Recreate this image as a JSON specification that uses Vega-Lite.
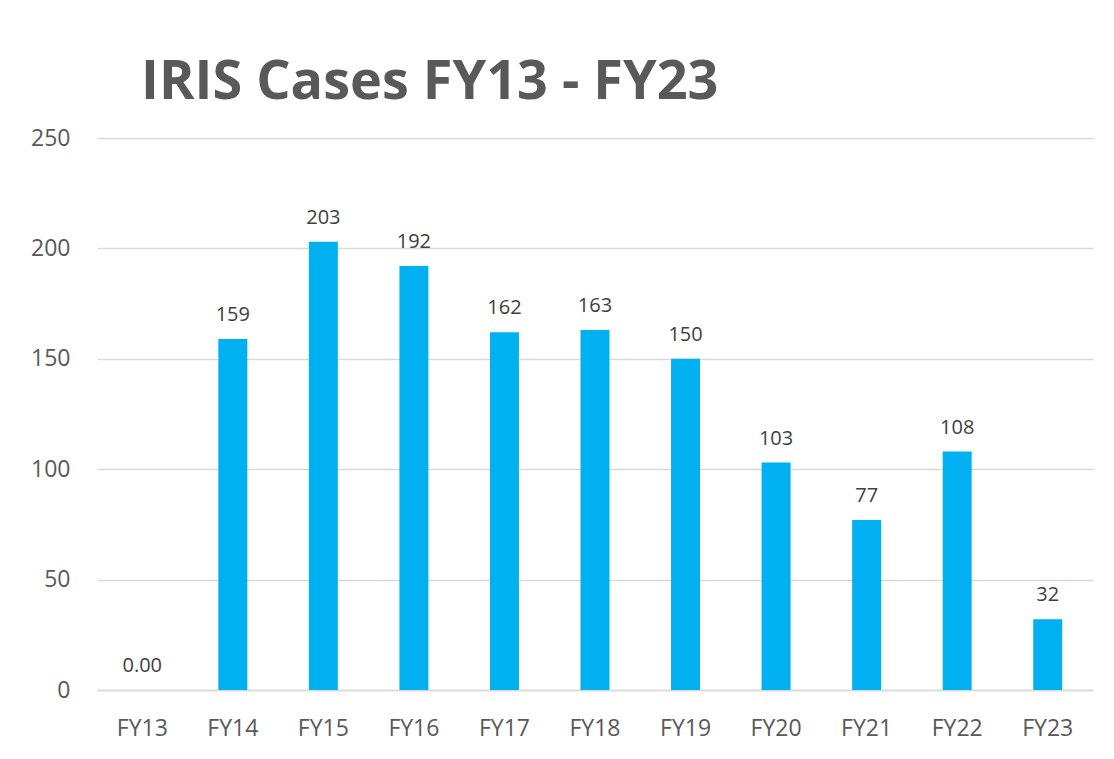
{
  "$schema": "https://vega.github.io/schema/vega-lite/v6.json",
  "width": 996,
  "height": 552,
  "autosize": {"type": "none"},
  "padding": {"left": 97, "top": 138, "right": 21, "bottom": 69},
  "background": "white",
  "title": {
    "text": "IRIS Cases FY13 - FY23",
    "anchor": "start",
    "frame": "group",
    "font": "Open Sans",
    "fontSize": 54,
    "fontWeight": "bold",
    "color": "#595959",
    "baseline": "alphabetic",
    "dx": 44,
    "dy": 64,
    "offset": 38
  },
  "data": {
    "values": [
      {"year": "FY13", "cases": 0, "label": "0.00"},
      {"year": "FY14", "cases": 159, "label": "159"},
      {"year": "FY15", "cases": 203, "label": "203"},
      {"year": "FY16", "cases": 192, "label": "192"},
      {"year": "FY17", "cases": 162, "label": "162"},
      {"year": "FY18", "cases": 163, "label": "163"},
      {"year": "FY19", "cases": 150, "label": "150"},
      {"year": "FY20", "cases": 103, "label": "103"},
      {"year": "FY21", "cases": 77, "label": "77"},
      {"year": "FY22", "cases": 108, "label": "108"},
      {"year": "FY23", "cases": 32, "label": "32"}
    ]
  },
  "encoding": {
    "x": {
      "field": "year",
      "type": "nominal",
      "sort": null,
      "scale": {"paddingInner": 0.68, "paddingOuter": 0.34},
      "axis": {
        "title": null,
        "labelAngle": 0,
        "labelFont": "Open Sans",
        "labelFontSize": 23,
        "labelColor": "#595959",
        "labelPadding": 27,
        "ticks": false,
        "tickSize": 0,
        "domainColor": "#d9d9d9",
        "domainWidth": 1.5,
        "grid": false
      }
    },
    "y": {
      "field": "cases",
      "type": "quantitative",
      "scale": {"domain": [0, 250], "nice": false},
      "axis": {
        "title": null,
        "values": [0, 50, 100, 150, 200, 250],
        "labelFont": "Open Sans",
        "labelFontSize": 23,
        "labelColor": "#595959",
        "labelPadding": 27,
        "ticks": false,
        "tickSize": 0,
        "domain": false,
        "grid": true,
        "gridColor": "#d9d9d9",
        "gridWidth": 1.5
      }
    }
  },
  "layer": [
    {"mark": {"type": "bar", "color": "#00B0F0"}},
    {
      "mark": {
        "type": "text",
        "baseline": "alphabetic",
        "dy": -18,
        "font": "Open Sans",
        "fontSize": 20,
        "color": "#404040"
      },
      "encoding": {"text": {"field": "label"}}
    }
  ],
  "config": {"view": {"stroke": null}}
}
